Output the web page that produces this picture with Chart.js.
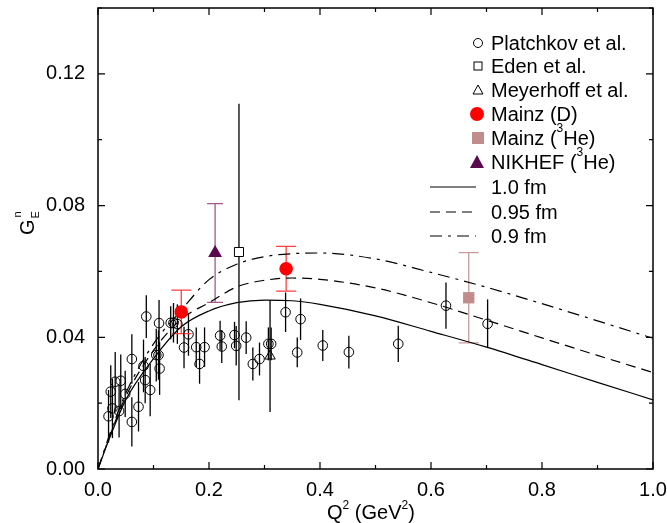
<!DOCTYPE html>
<html>
<head>
<meta charset="utf-8">
<script src="https://cdn.jsdelivr.net/npm/chart.js@4.4.1/dist/chart.umd.min.js"></script>
<style>
  html, body { margin: 0; padding: 0; background: #fff; }
  #wrap { width: 667px; height: 523px; }
</style>
</head>
<body>
<div id="wrap"><canvas id="chart" width="667" height="523"></canvas></div>
<script>
// Platchkov et al. (open circles)
const platchkovQ2 = [0.019, 0.023, 0.026, 0.031, 0.038, 0.041, 0.049, 0.061, 0.061, 0.073,
    0.082, 0.085, 0.087, 0.094, 0.105, 0.109, 0.110, 0.111, 0.131, 0.136,
    0.143, 0.155, 0.163, 0.177, 0.183, 0.192, 0.220, 0.223, 0.246, 0.249,
    0.267, 0.279, 0.291, 0.307, 0.312, 0.338, 0.359, 0.365, 0.405, 0.452,
    0.541, 0.627, 0.702];
const platchkovGE = [0.0160, 0.0235, 0.0184, 0.0265, 0.0176, 0.0268, 0.0228, 0.0334, 0.0143, 0.0189,
    0.0313, 0.0270, 0.0463, 0.0240, 0.0346, 0.0346, 0.0443, 0.0305, 0.0444, 0.0444,
    0.0440, 0.0369, 0.0409, 0.0370, 0.0319, 0.0370, 0.0405, 0.0372, 0.0407, 0.0374,
    0.0399, 0.0319, 0.0334, 0.0380, 0.0380, 0.0476, 0.0354, 0.0455, 0.0375, 0.0355,
    0.0380, 0.0496, 0.0441];
const platchkovErr = [0.008, 0.008, 0.009, 0.009, 0.008, 0.008, 0.007, 0.0075, 0.0075, 0.0075,
    0.008, 0.007, 0.0065, 0.008, 0.008, 0.0075, 0.007, 0.008, 0.005, 0.006,
    0.006, 0.0063, 0.0065, 0.006, 0.006, 0.006, 0.0045, 0.005, 0.004, 0.006,
    0.005, 0.005, 0.005, 0.005, 0.005, 0.006, 0.0045, 0.0063, 0.0047, 0.005,
    0.0055, 0.007, 0.0074];

const edenQ2 = [0.254];
const edenGE = [0.0659];
const edenErr = [0.045];

const meyerhoffQ2 = [0.310];
const meyerhoffGE = [0.0343];
const meyerhoffErr = [0.017];

const mainzDQ2 = [0.150, 0.339];
const mainzDGE = [0.0477, 0.0608];
const mainzDErr = [0.0066, 0.0068];

const mainzHeQ2 = [0.668];
const mainzHeGE = [0.052];
const mainzHeErr = [0.0137];

const nikhefQ2 = [0.211];
const nikhefGE = [0.0656];
const nikhefErr = [0.015];

// model curves
const curveQ2 = [0, 0.02, 0.05, 0.1, 0.15, 0.2, 0.25, 0.3, 0.35, 0.4, 0.5, 0.6, 0.7, 0.8, 0.9, 1.0];
const curve10 = [0, 0.0090, 0.0210, 0.0335, 0.0432, 0.0480, 0.0505, 0.0513, 0.0511, 0.0500, 0.0465, 0.0418, 0.0370, 0.0317, 0.0263, 0.0210];
const curve095 = [0, 0.0095, 0.0220, 0.0360, 0.0455, 0.0505, 0.0553, 0.0573, 0.0580, 0.0576, 0.0550, 0.0505, 0.0452, 0.0398, 0.0345, 0.0293];
const curve09 = [0, 0.0100, 0.0230, 0.0380, 0.0482, 0.0575, 0.0622, 0.0645, 0.0654, 0.0656, 0.0638, 0.0597, 0.0552, 0.0502, 0.0450, 0.0397];

const xTicks = [0, 0.2, 0.4, 0.6, 0.8, 1.0];
const yTicks = [0, 0.04, 0.08, 0.12];

const FONT = "'Liberation Sans', Arial, sans-serif";
const FS = 20;

function pts(xs, ys) {
    return xs.map((x, i) => ({ x: x, y: ys[i] }));
}

const errorBars = {
    id: 'errorBars',
    beforeDatasetsDraw(chart) {
        const { ctx, scales: { x, y } } = chart;
        ctx.save();
        chart.data.datasets.forEach(ds => {
            if (!ds.errors) return;
            ctx.strokeStyle = ds.errColor;
            ctx.lineWidth = 1.3;
            ds.data.forEach((p, i) => {
                const px = x.getPixelForValue(p.x);
                const top = y.getPixelForValue(p.y + ds.errors[i]);
                const bot = y.getPixelForValue(Math.max(0, p.y - ds.errors[i]));
                ctx.beginPath();
                ctx.moveTo(px, top);
                ctx.lineTo(px, bot);
                if (ds.cap) {
                    ctx.moveTo(px - ds.cap, top);
                    ctx.lineTo(px + ds.cap, top);
                    ctx.moveTo(px - ds.cap, bot);
                    ctx.lineTo(px + ds.cap, bot);
                }
                ctx.stroke();
            });
        });
        ctx.restore();
    }
};

function drawRich(ctx, parts, x, y, size) {
    // parts: [text, 'n'|'sup'|'sub']
    let cx = x;
    parts.forEach(([t, kind]) => {
        const s = kind === 'n' ? size : size * 0.6;
        const dy = kind === 'sup' ? -size * 0.5 : (kind === 'sub' ? size * 0.25 : 0);
        ctx.font = s + 'px ' + FONT;
        ctx.fillText(t, cx, y + dy);
        cx += ctx.measureText(t).width;
    });
}

const frame = {
    id: 'frame',
    afterDraw(chart) {
        const { ctx, chartArea: a, scales: { x, y } } = chart;
        ctx.save();
        ctx.strokeStyle = '#000';
        ctx.lineWidth = 1.5;
        ctx.strokeRect(a.left, a.top, a.right - a.left, a.bottom - a.top);
        ctx.lineWidth = 1.2;
        ctx.beginPath();
        for (let i = 0; i <= 10; i++) {
            const v = i / 10;
            const px = x.getPixelForValue(v);
            const len = i % 2 === 0 ? 7 : 4;
            ctx.moveTo(px, a.bottom); ctx.lineTo(px, a.bottom - len);
            ctx.moveTo(px, a.top); ctx.lineTo(px, a.top + len);
        }
        for (let i = 0; i <= 7; i++) {
            const v = i * 0.02;
            const py = y.getPixelForValue(v);
            const len = i % 2 === 0 ? 7 : 4;
            ctx.moveTo(a.left, py); ctx.lineTo(a.left + len, py);
            ctx.moveTo(a.right, py); ctx.lineTo(a.right - len, py);
        }
        ctx.stroke();

        // axis titles
        ctx.fillStyle = '#000';
        ctx.textBaseline = 'alphabetic';
        ctx.textAlign = 'left';
        drawRich(ctx, [['Q', 'n'], ['2', 'sup'], [' (GeV', 'n'], ['2', 'sup'], [')', 'n']], 327, 519, FS);

        ctx.save();
        ctx.translate(34, 235);
        ctx.rotate(-Math.PI / 2);
        ctx.font = FS + 'px ' + FONT;
        ctx.fillText('G', 0, 0);
        const gw = ctx.measureText('G').width;
        ctx.font = '11px ' + FONT;
        ctx.fillText('E', gw + 1, 5);
        ctx.fillText('n', gw + 2, -13);
        ctx.restore();

        // legend
        const lx = 478, tx = 491;
        const rows = [43, 66, 90, 114, 138, 162, 187, 212, 236];
        ctx.textBaseline = 'middle';
        const labels = [
            [['Platchkov et al.', 'n']],
            [['Eden et al.', 'n']],
            [['Meyerhoff et al.', 'n']],
            [['Mainz (D)', 'n']],
            [['Mainz (', 'n'], ['3', 'sup'], ['He)', 'n']],
            [['NIKHEF (', 'n'], ['3', 'sup'], ['He)', 'n']],
            [['1.0 fm', 'n']],
            [['0.95 fm', 'n']],
            [['0.9 fm', 'n']]
        ];
        labels.forEach((parts, i) => drawRich(ctx, parts, tx, rows[i] + 1, FS));

        ctx.lineWidth = 1;
        ctx.strokeStyle = '#000';
        ctx.beginPath(); ctx.arc(lx, rows[0], 4.5, 0, Math.PI * 2); ctx.stroke();
        ctx.strokeRect(lx - 4, rows[1] - 4, 8, 8);
        ctx.beginPath();
        ctx.moveTo(lx, rows[2] - 5); ctx.lineTo(lx + 5, rows[2] + 4); ctx.lineTo(lx - 5, rows[2] + 4); ctx.closePath();
        ctx.stroke();
        ctx.fillStyle = '#ff0000';
        ctx.beginPath(); ctx.arc(lx - 1, rows[3], 7, 0, Math.PI * 2); ctx.fill();
        ctx.fillStyle = '#c08c8c';
        ctx.fillRect(lx - 6, rows[4] - 6, 12, 12);
        ctx.fillStyle = '#5a0a4c';
        ctx.beginPath();
        ctx.moveTo(lx - 1, rows[5] - 7); ctx.lineTo(lx + 6, rows[5] + 6); ctx.lineTo(lx - 8, rows[5] + 6); ctx.closePath();
        ctx.fill();

        const dashes = [[], [10, 6], [12, 6, 3, 6]];
        dashes.forEach((d, i) => {
            ctx.setLineDash(d);
            ctx.lineWidth = 1.2;
            ctx.beginPath();
            ctx.moveTo(430, rows[6 + i]);
            ctx.lineTo(476, rows[6 + i]);
            ctx.stroke();
        });
        ctx.setLineDash([]);
        ctx.restore();
    }
};

const curveStyle = {
    type: 'line',
    showLine: true,
    pointRadius: 0,
    borderColor: '#000',
    borderWidth: 1.2,
    cubicInterpolationMode: 'monotone',
    fill: false
};

new Chart(document.getElementById('chart'), {
    type: 'scatter',
    data: {
        datasets: [
            Object.assign({ label: '1.0 fm', data: pts(curveQ2, curve10), order: 5 }, curveStyle),
            Object.assign({ label: '0.95 fm', data: pts(curveQ2, curve095), borderDash: [10, 6], order: 5 }, curveStyle),
            Object.assign({ label: '0.9 fm', data: pts(curveQ2, curve09), borderDash: [12, 6, 3, 6], order: 5 }, curveStyle),
            {
                label: 'Platchkov et al.', data: pts(platchkovQ2, platchkovGE), errors: platchkovErr, errColor: '#000',
                pointStyle: 'circle', pointRadius: 4.8, borderColor: '#000', backgroundColor: 'rgba(255,255,255,0)', borderWidth: 1, order: 4
            },
            {
                label: 'Eden et al.', data: pts(edenQ2, edenGE), errors: edenErr, errColor: '#000',
                pointStyle: 'rect', pointRadius: 6.4, borderColor: '#000', backgroundColor: '#fff', borderWidth: 1, order: 3
            },
            {
                label: 'Meyerhoff et al.', data: pts(meyerhoffQ2, meyerhoffGE), errors: meyerhoffErr, errColor: '#000',
                pointStyle: 'triangle', pointRadius: 6, borderColor: '#000', backgroundColor: 'rgba(255,255,255,0)', borderWidth: 1, order: 3
            },
            {
                label: 'Mainz (D)', data: pts(mainzDQ2, mainzDGE), errors: mainzDErr, errColor: '#ff4040', cap: 10,
                pointStyle: 'circle', pointRadius: 6.8, borderColor: '#ff0000', backgroundColor: '#ff0000', borderWidth: 0, order: 1
            },
            {
                label: 'Mainz (3He)', data: pts(mainzHeQ2, mainzHeGE), errors: mainzHeErr, errColor: '#c99a9a', cap: 10,
                pointStyle: 'rect', pointRadius: 8, borderColor: '#c08c8c', backgroundColor: '#c08c8c', borderWidth: 0, order: 1
            },
            {
                label: 'NIKHEF (3He)', data: pts(nikhefQ2, nikhefGE), errors: nikhefErr, errColor: '#a05a90', cap: 8,
                pointStyle: 'triangle', pointRadius: 8, borderColor: '#5a0a4c', backgroundColor: '#5a0a4c', borderWidth: 0, order: 1
            }
        ]
    },
    options: {
        responsive: false,
        devicePixelRatio: 1,
        animation: false,
        layout: { padding: { top: 8, right: 14, left: 0, bottom: 0 } },
        plugins: { legend: { display: false }, tooltip: { enabled: false } },
        scales: {
            x: {
                type: 'linear', min: 0, max: 1,
                afterBuildTicks: s => { s.ticks = xTicks.map(v => ({ value: v })); },
                afterFit: s => { s.height = 54; s.paddingLeft = 0; s.paddingRight = 0; },
                grid: { display: false, drawTicks: false },
                border: { display: false },
                ticks: { color: '#000', padding: 9, font: { family: FONT, size: FS }, callback: v => v.toFixed(1) }
            },
            y: {
                type: 'linear', min: 0, max: 0.14,
                afterBuildTicks: s => { s.ticks = yTicks.map(v => ({ value: v })); },
                afterFit: s => { s.width = 98; s.paddingTop = 0; s.paddingBottom = 0; },
                grid: { display: false, drawTicks: false },
                border: { display: false },
                ticks: { color: '#000', padding: 13, font: { family: FONT, size: FS }, callback: v => v.toFixed(2) }
            }
        }
    },
    plugins: [errorBars, frame]
});
</script>
</body>
</html>
